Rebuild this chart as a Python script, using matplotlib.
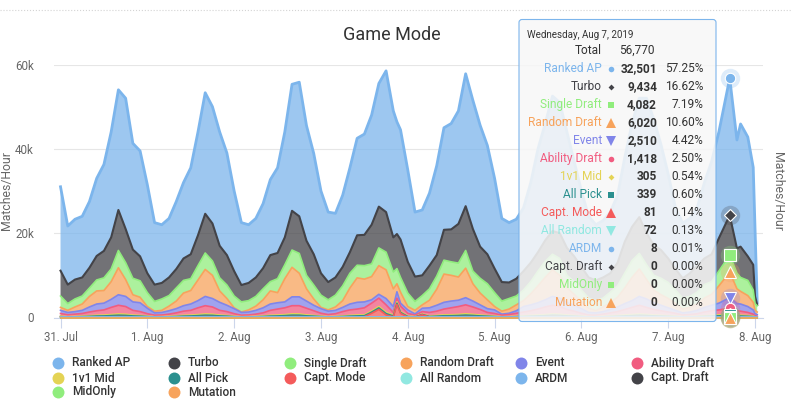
import numpy as np
import matplotlib
matplotlib.use("Agg")
import matplotlib.pyplot as plt
from matplotlib.patches import FancyBboxPatch

plt.rcParams["font.family"] = ["Roboto", "DejaVu Sans"]

# hours since 31 Jul 00:00; extra points at the 4 Aug spike and the hovered tail
hours = sorted(list(range(0, 182, 2)) + [93, 182, 185, 187, 188, 190, 191.5, 192, 192.6])

# stacked tops, in thousands of matches/hour (one line per day)
ranked_top = [31, 21.7, 23.3, 24, 27.5, 33, 36.3, 44, 54, 52, 41.3, 39.5,
              31.5, 22.5, 22, 23.5, 27.5, 32, 35.5, 44, 53.3, 50, 44, 39,
              30, 22.5, 22, 23.5, 27, 32.7, 35.5, 44, 55.3, 55.8, 45.5, 38.9,
              30, 25, 24.7, 29, 35.5, 42.5, 43.5, 48, 55.5, 58.5, 49, 46.4, 44.5,
              35, 25, 25.5, 29.5, 36, 45, 46, 49, 57.8, 51.5, 45.6, 40.8,
              33, 23.5, 22.5, 23.3, 26, 32, 40, 46, 52.5, 51, 44, 37,
              30, 24, 22, 23, 25, 29, 38, 46, 52, 52, 47, 41,
              34, 26, 22.4, 23.5, 26, 32, 37, 44, 56.77, 42.1, 45.9, 42.8, 35.6, 21, 3.5]
turbo_top = [11.1, 7.8, 9, 9.5, 11.8, 14.6, 15.8, 19, 25.5, 21, 16.1, 14.5,
             10.5, 7.8, 8.2, 9.5, 11.5, 14, 15, 19.5, 24.6, 22.3, 17, 14.8,
             11, 7.7, 8.2, 9.5, 11.7, 14.8, 15.3, 19, 25.3, 24, 18.2, 15,
             10.5, 8.4, 9.5, 12, 15.5, 19.5, 19.6, 22, 26.3, 25, 19, 19.8, 18.5,
             13.2, 9.7, 10, 12.3, 14.8, 20.8, 20.9, 22.2, 26.4, 21, 16.8, 15,
             11.6, 8.4, 8.3, 9.2, 11, 13, 15.5, 18.3, 20.5, 20, 16.5, 14.5,
             12, 9.5, 8.8, 9.5, 10.5, 13, 18, 21.5, 23.8, 20, 17.2, 16,
             14, 11.5, 9.3, 10.5, 12.3, 14, 15, 18.8, 24.24, 16.4, 16.8, 14.5, 12.5, 5, 3]
single_top = [5.1, 3.3, 4.4, 5.1, 7, 8.9, 9.4, 11.5, 15.9, 13, 9.3, 8.7,
              5.9, 3.8, 4.4, 5.2, 7, 8.8, 9.2, 12.3, 15.3, 13.4, 9.4, 7.7,
              5.1, 3.7, 4, 5, 6.8, 8.5, 9.2, 12.5, 16, 15.2, 10, 7.7,
              5.3, 4.2, 5.3, 7.5, 10.5, 12.4, 12.3, 12.7, 16.5, 15.5, 10.8, 11.6, 9.5,
              5.8, 3.8, 5.2, 6.8, 9.8, 13.6, 13.2, 12.9, 15.9, 11, 9.3, 8,
              5.9, 3.9, 4.5, 5.1, 6.5, 8.5, 11, 13.3, 15, 14, 10, 8.5,
              6.5, 4.6, 4, 4.6, 6, 7.5, 10.5, 13.5, 15.2, 12.5, 10, 9.3,
              8.3, 6.5, 4.6, 5, 6, 7.8, 8.5, 11, 14.82, 10.5, 9.5, 8.8, 6.5, 3.3, 2.8]
random_top = [2.4, 1.7, 2.5, 3.2, 5, 6.3, 6.4, 8.5, 11.8, 9, 5.4, 4.8,
              2.6, 1.5, 1.7, 2.7, 3.9, 5.8, 6.4, 8.9, 11.4, 10, 6.3, 4.5,
              2.3, 1.3, 1.8, 2.7, 4.2, 6.3, 5.9, 9.2, 11.9, 10.5, 6.8, 4.4,
              2.4, 1.8, 2.5, 4, 7, 9.4, 9.1, 9.7, 12.3, 11.3, 6.8, 8, 6,
              2.6, 1.7, 3, 4.1, 6.7, 10.3, 10, 9.6, 11.7, 8, 5.8, 4.2,
              2.6, 1.5, 2, 3, 4, 5.6, 7.5, 9.5, 11.3, 10, 7, 5.5,
              3.8, 2.2, 1.6, 2.5, 3.5, 4.8, 7, 9.5, 11.5, 9, 6.5, 5.4,
              4.5, 3.3, 2, 2.4, 3.2, 4.6, 5.5, 7.5, 10.74, 6.8, 6.2, 5.2, 3.6, 1.7, 1.3]
event_top = [1.7, 1.2, 1.4, 1.7, 2.5, 3.2, 3.4, 4.3, 5.4, 5, 3.7, 3.5,
             2.2, 1.1, 1.2, 1.6, 2.1, 2.8, 3.2, 4, 5, 4.5, 3.6, 2.9,
             2.1, 1.2, 1.3, 1.7, 2.3, 3.2, 3.5, 3.7, 4.9, 4.9, 3.9, 2.9,
             2.1, 1.5, 1.7, 2.4, 3.2, 3.6, 3.7, 4.2, 5.5, 4.5, 2.6, 6.1, 3.4,
             1.8, 0.85, 2.2, 2.3, 2.9, 3.6, 3.9, 4.1, 4.7, 3.9, 3, 2.1,
             1.8, 0.8, 1, 1.6, 2.6, 3, 3.5, 4.2, 5, 4.6, 3.6, 2.9,
             2.1, 1.2, 1.1, 1.4, 1.9, 2.5, 3.3, 4, 5, 4.4, 3.5, 2.9,
             2.3, 1.7, 1.1, 1.3, 1.7, 2.4, 2.9, 3.4, 4.72, 3.3, 3.2, 2.6, 1.8, 0.9, 0.7]
ability_top = [0.95, 0.65, 0.8, 0.95, 1.3, 1.6, 1.8, 2.4, 2.9, 2.6, 1.7, 1.4,
               0.9, 0.55, 0.6, 0.8, 1.1, 1.5, 1.7, 2.3, 2.8, 2.5, 1.7, 1.4,
               0.9, 0.55, 0.6, 0.8, 1.1, 1.7, 2, 2.3, 2.8, 2.8, 2.2, 1.6,
               1, 0.7, 0.9, 1.4, 1.8, 2, 2.3, 3.4, 4.6, 3, 1.2, 4.6, 2.7,
               1, 0.55, 1.4, 1.2, 1.5, 2, 2.3, 2.6, 3, 2.5, 1.9, 1.2,
               0.95, 0.55, 0.7, 1, 1.3, 1.6, 2, 2.5, 2.9, 2.6, 1.9, 1.5,
               1, 0.6, 0.55, 0.8, 1.1, 1.4, 1.9, 2.4, 2.9, 2.4, 1.9, 1.6,
               1.3, 1, 0.6, 0.7, 0.9, 1.3, 1.6, 1.8, 2.22, 1.6, 1.5, 1.2, 0.8, 0.4, 0.3]

# the thin modes at the bottom, plain per-series values
one_v_one = [0.12, 0.08, 0.1, 0.12, 0.15, 0.18, 0.2, 0.25, 0.3, 0.28, 0.2, 0.17,
             0.12, 0.08, 0.09, 0.11, 0.14, 0.18, 0.2, 0.25, 0.3, 0.28, 0.2, 0.16,
             0.11, 0.08, 0.09, 0.11, 0.14, 0.19, 0.21, 0.25, 0.31, 0.3, 0.22, 0.17,
             0.12, 0.09, 0.1, 0.14, 0.18, 0.21, 0.22, 0.26, 0.33, 0.3, 0.2, 0.3, 0.2,
             0.12, 0.08, 0.1, 0.13, 0.17, 0.22, 0.23, 0.26, 0.32, 0.27, 0.21, 0.16,
             0.12, 0.08, 0.09, 0.12, 0.15, 0.18, 0.21, 0.25, 0.3, 0.28, 0.21, 0.17,
             0.12, 0.08, 0.08, 0.11, 0.14, 0.17, 0.21, 0.25, 0.3, 0.26, 0.21, 0.18,
             0.15, 0.12, 0.08, 0.09, 0.11, 0.15, 0.18, 0.22, 0.305, 0.22, 0.2, 0.17, 0.12, 0.06, 0.05]
all_pick = [0.1, 0.06, 0.08, 0.1, 0.14, 0.2, 0.22, 0.28, 0.33, 0.3, 0.22, 0.18,
            0.11, 0.06, 0.07, 0.09, 0.13, 0.19, 0.21, 0.27, 0.33, 0.31, 0.22, 0.18,
            0.1, 0.06, 0.07, 0.09, 0.13, 0.2, 0.22, 0.27, 0.34, 0.33, 0.24, 0.18,
            0.11, 0.07, 0.09, 0.13, 0.19, 0.23, 0.24, 0.28, 0.36, 0.33, 0.2, 0.3, 0.22,
            0.11, 0.06, 0.08, 0.12, 0.18, 0.24, 0.25, 0.28, 0.35, 0.29, 0.22, 0.17,
            0.11, 0.06, 0.07, 0.1, 0.14, 0.19, 0.23, 0.27, 0.33, 0.3, 0.23, 0.18,
            0.12, 0.07, 0.06, 0.09, 0.13, 0.18, 0.23, 0.28, 0.33, 0.29, 0.23, 0.2,
            0.16, 0.12, 0.07, 0.08, 0.11, 0.16, 0.19, 0.25, 0.339, 0.24, 0.22, 0.18, 0.12, 0.05, 0.05]
capt_mode = [0.05, 0.03, 0.04, 0.05, 0.06, 0.07, 0.08, 0.09, 0.11, 0.1, 0.08, 0.07,
             0.05, 0.03, 0.03, 0.04, 0.05, 0.07, 0.08, 0.09, 0.11, 0.1, 0.08, 0.07,
             0.05, 0.03, 0.03, 0.04, 0.05, 0.07, 0.08, 0.09, 0.11, 0.11, 0.08, 0.07,
             0.05, 0.03, 0.04, 0.05, 0.07, 0.08, 0.1, 0.9, 1.8, 0.5, 0.08, 3, 0.9,
             0.06, 0.03, 0.6, 0.06, 0.07, 0.09, 0.09, 0.1, 0.11, 0.1, 0.08, 0.07,
             0.05, 0.03, 0.03, 0.05, 0.06, 0.07, 0.08, 0.09, 0.11, 0.1, 0.08, 0.07,
             0.05, 0.03, 0.03, 0.04, 0.05, 0.06, 0.08, 0.09, 0.11, 0.09, 0.08, 0.07,
             0.06, 0.05, 0.03, 0.03, 0.04, 0.06, 0.07, 0.07, 0.081, 0.07, 0.06, 0.05, 0.04, 0.02, 0.01]
all_random = [0.04, 0.02, 0.03, 0.04, 0.05, 0.06, 0.06, 0.07, 0.09, 0.08, 0.06, 0.05,
              0.04, 0.02, 0.02, 0.03, 0.04, 0.05, 0.06, 0.07, 0.09, 0.08, 0.06, 0.05,
              0.03, 0.02, 0.02, 0.03, 0.04, 0.05, 0.06, 0.07, 0.09, 0.09, 0.06, 0.05,
              0.04, 0.02, 0.03, 0.04, 0.05, 0.06, 0.07, 0.08, 0.1, 0.09, 0.06, 0.08, 0.06,
              0.04, 0.02, 0.03, 0.04, 0.05, 0.07, 0.07, 0.08, 0.09, 0.08, 0.06, 0.05,
              0.04, 0.02, 0.02, 0.03, 0.04, 0.05, 0.06, 0.07, 0.09, 0.08, 0.06, 0.05,
              0.04, 0.02, 0.02, 0.03, 0.04, 0.05, 0.06, 0.07, 0.09, 0.08, 0.06, 0.05,
              0.04, 0.03, 0.02, 0.02, 0.03, 0.04, 0.05, 0.06, 0.072, 0.05, 0.05, 0.04, 0.03, 0.01, 0.01]
ardm = [0.01] * 100
capt_draft = [0] * 100
mid_only = [0] * 100
mutation = [0] * 100

names = ["Ranked AP", "Turbo", "Single Draft", "Random Draft", "Event", "Ability Draft", "1v1 Mid",
         "All Pick", "Capt. Mode", "All Random", "ARDM", "Capt. Draft", "MidOnly", "Mutation"]
colors = ["#7cb5ec", "#434348", "#90ed7d", "#f7a35c", "#8085e9", "#f15c80", "#e4d354",
          "#2b908f", "#f45b5b", "#91e8e1", "#7cb5ec", "#434348", "#90ed7d", "#f7a35c"]
markers = ["o", "D", "s", "^", "v", "o", "D", "s", "^", "v", "o", "D", "s", "^"]

day_labels = ["31. Jul", "1. Aug", "2. Aug", "3. Aug", "4. Aug", "5. Aug", "6. Aug", "7. Aug", "8. Aug"]
y_ticks = [0, 20, 40, 60]
y_labels = ["0", "20k", "40k", "60k"]

# hovered tooltip contents
hover_hour = 185
tip_date = "Wednesday, Aug 7, 2019"
tip_total = "56,770"
tip_values = ["32,501", "9,434", "4,082", "6,020", "2,510", "1,418", "305",
              "339", "81", "72", "8", "0", "0", "0"]
tip_shares = ["57.25%", "16.62%", "7.19%", "10.60%", "4.42%", "2.50%", "0.54%",
              "0.60%", "0.14%", "0.13%", "0.01%", "0.00%", "0.00%", "0.00%"]

hours = np.array(hours, dtype=float)
small = [np.array(s, dtype=float) for s in (mutation, mid_only, capt_draft, ardm, all_random,
                                             capt_mode, all_pick, one_v_one)]
tops = [np.array(t, dtype=float) for t in (ability_top, event_top, random_top, single_top,
                                            turbo_top, ranked_top)]
ability = tops[0] - np.sum(small, axis=0)
stack = small + [ability] + [tops[i + 1] - tops[i] for i in range(5)]
stack_colors = colors[::-1]
stack_markers = markers[::-1]
stack_widths = [1.2] * 12 + [1.5, 2.0]

W, H = 792, 404
fig = plt.figure(figsize=(W / 100, H / 100), dpi=100)
ax = fig.add_axes([53.5 / W, 1 - 317.5 / H, (763 - 53.5) / W, (317.5 - 64.5) / H])
ax.set_xlim(-1.94, 194.2)
ax.set_ylim(0, 60)

ax.stackplot(hours, stack, colors=stack_colors, alpha=0.75, linewidth=0, zorder=2)
cum = np.cumsum(stack, axis=0)
# top edges are drawn from the top series down, so the lower ones sit above
for lvl, col, lw in list(zip(cum, stack_colors, stack_widths))[::-1]:
    ax.plot(hours, lvl, color=col, lw=lw, zorder=3, clip_on=False, solid_joinstyle="round")

hi = int(np.where(hours == hover_hour)[0][0])
for lvl, col, mk in list(zip(cum, stack_colors, stack_markers))[::-1]:
    ms = {"s": 9, "^": 9, "v": 9, "D": 6, "o": 7.5}[mk]
    ax.plot(hours[hi], lvl[hi], "o", color=col, ms=14, alpha=0.25, mew=0, zorder=4, clip_on=False)
    ax.plot(hours[hi], lvl[hi], mk, color=col, ms=ms, mec="white", mew=0.8, zorder=5, clip_on=False)

ax.set_yticks(y_ticks, y_labels)
ax.set_xticks(np.arange(len(day_labels)) * 24, day_labels)
ax.tick_params(axis="y", length=0, pad=14, labelsize=8.4, labelcolor="#666666")
ax.tick_params(axis="x", length=7, width=0.8, color="#ccd6eb", pad=3, labelsize=8.3, labelcolor="#666666")
ax.grid(axis="y", color="#e6e6e6", lw=0.8)
ax.set_axisbelow(True)
for side in ("top", "left", "right"):
    ax.spines[side].set_visible(False)
ax.spines["bottom"].set_color("#ccd6eb")
ax.spines["bottom"].set_linewidth(0.8)

# everything else is laid out in picture pixels
ov = fig.add_axes([0, 0, 1, 1], zorder=10)
ov.set_xlim(0, W)
ov.set_ylim(H, 0)
ov.axis("off")

ov.plot([0, W], [9.5, 9.5], ls=":", color="#d4d4d4", lw=0.8)
ov.text(392, 35.5, "Game Mode", ha="center", va="center", fontsize=13, color="#333333")
ov.text(7, 191, "Matches/Hour", rotation=90, ha="center", va="center", fontsize=8.8, color="#666666")
ov.text(777, 191, "Matches/Hour", rotation=270, ha="center", va="center", fontsize=8.8, color="#666666")

# tooltip
ov.add_patch(FancyBboxPatch((519, 19.5), 197, 302, boxstyle="round,pad=0,rounding_size=3",
                            fc="#f7f7f7", ec="none", alpha=0.87))
ov.add_patch(FancyBboxPatch((519, 19.5), 197, 302, boxstyle="round,pad=0,rounding_size=3",
                            fc="none", ec="#7cb5ec", lw=0.8))
ov.text(527, 34.5, tip_date, va="center", fontsize=7, color="#333333")
ov.text(602, 50.7, "Total", ha="right", va="center", fontsize=8.6, color="#333333")
ov.text(655, 50.7, tip_total, ha="right", va="center", fontsize=8.6, color="#333333")
tip_ms = {"s": 4.5, "^": 6.5, "v": 6.5, "D": 3, "o": 4}
for i, name in enumerate(names):
    y = 68.7 + 18 * i
    ov.text(602, y, name, ha="right", va="center", fontsize=8.6, color=colors[i])
    ov.plot(611, y, markers[i], color=colors[i], ms=tip_ms[markers[i]], mew=0)
    ov.text(657, y, tip_values[i], ha="right", va="center", fontsize=8.6, color="#333333", fontweight="bold")
    ov.text(703, y, tip_shares[i], ha="right", va="center", fontsize=8.6, color="#333333")

# legend, six columns filled row by row
col_x = [58, 174, 290, 406, 521, 637]
row_y = [363, 378, 392]
for i, name in enumerate(names):
    row, col = divmod(i, 6)
    ov.plot(col_x[col], row_y[row], "o", color=colors[i], ms=8.6, mew=0)
    ov.text(col_x[col] + 14, row_y[row], name, va="center", fontsize=8.6, color="#333333", fontweight="medium")

fig.savefig("out.png", dpi=100)
